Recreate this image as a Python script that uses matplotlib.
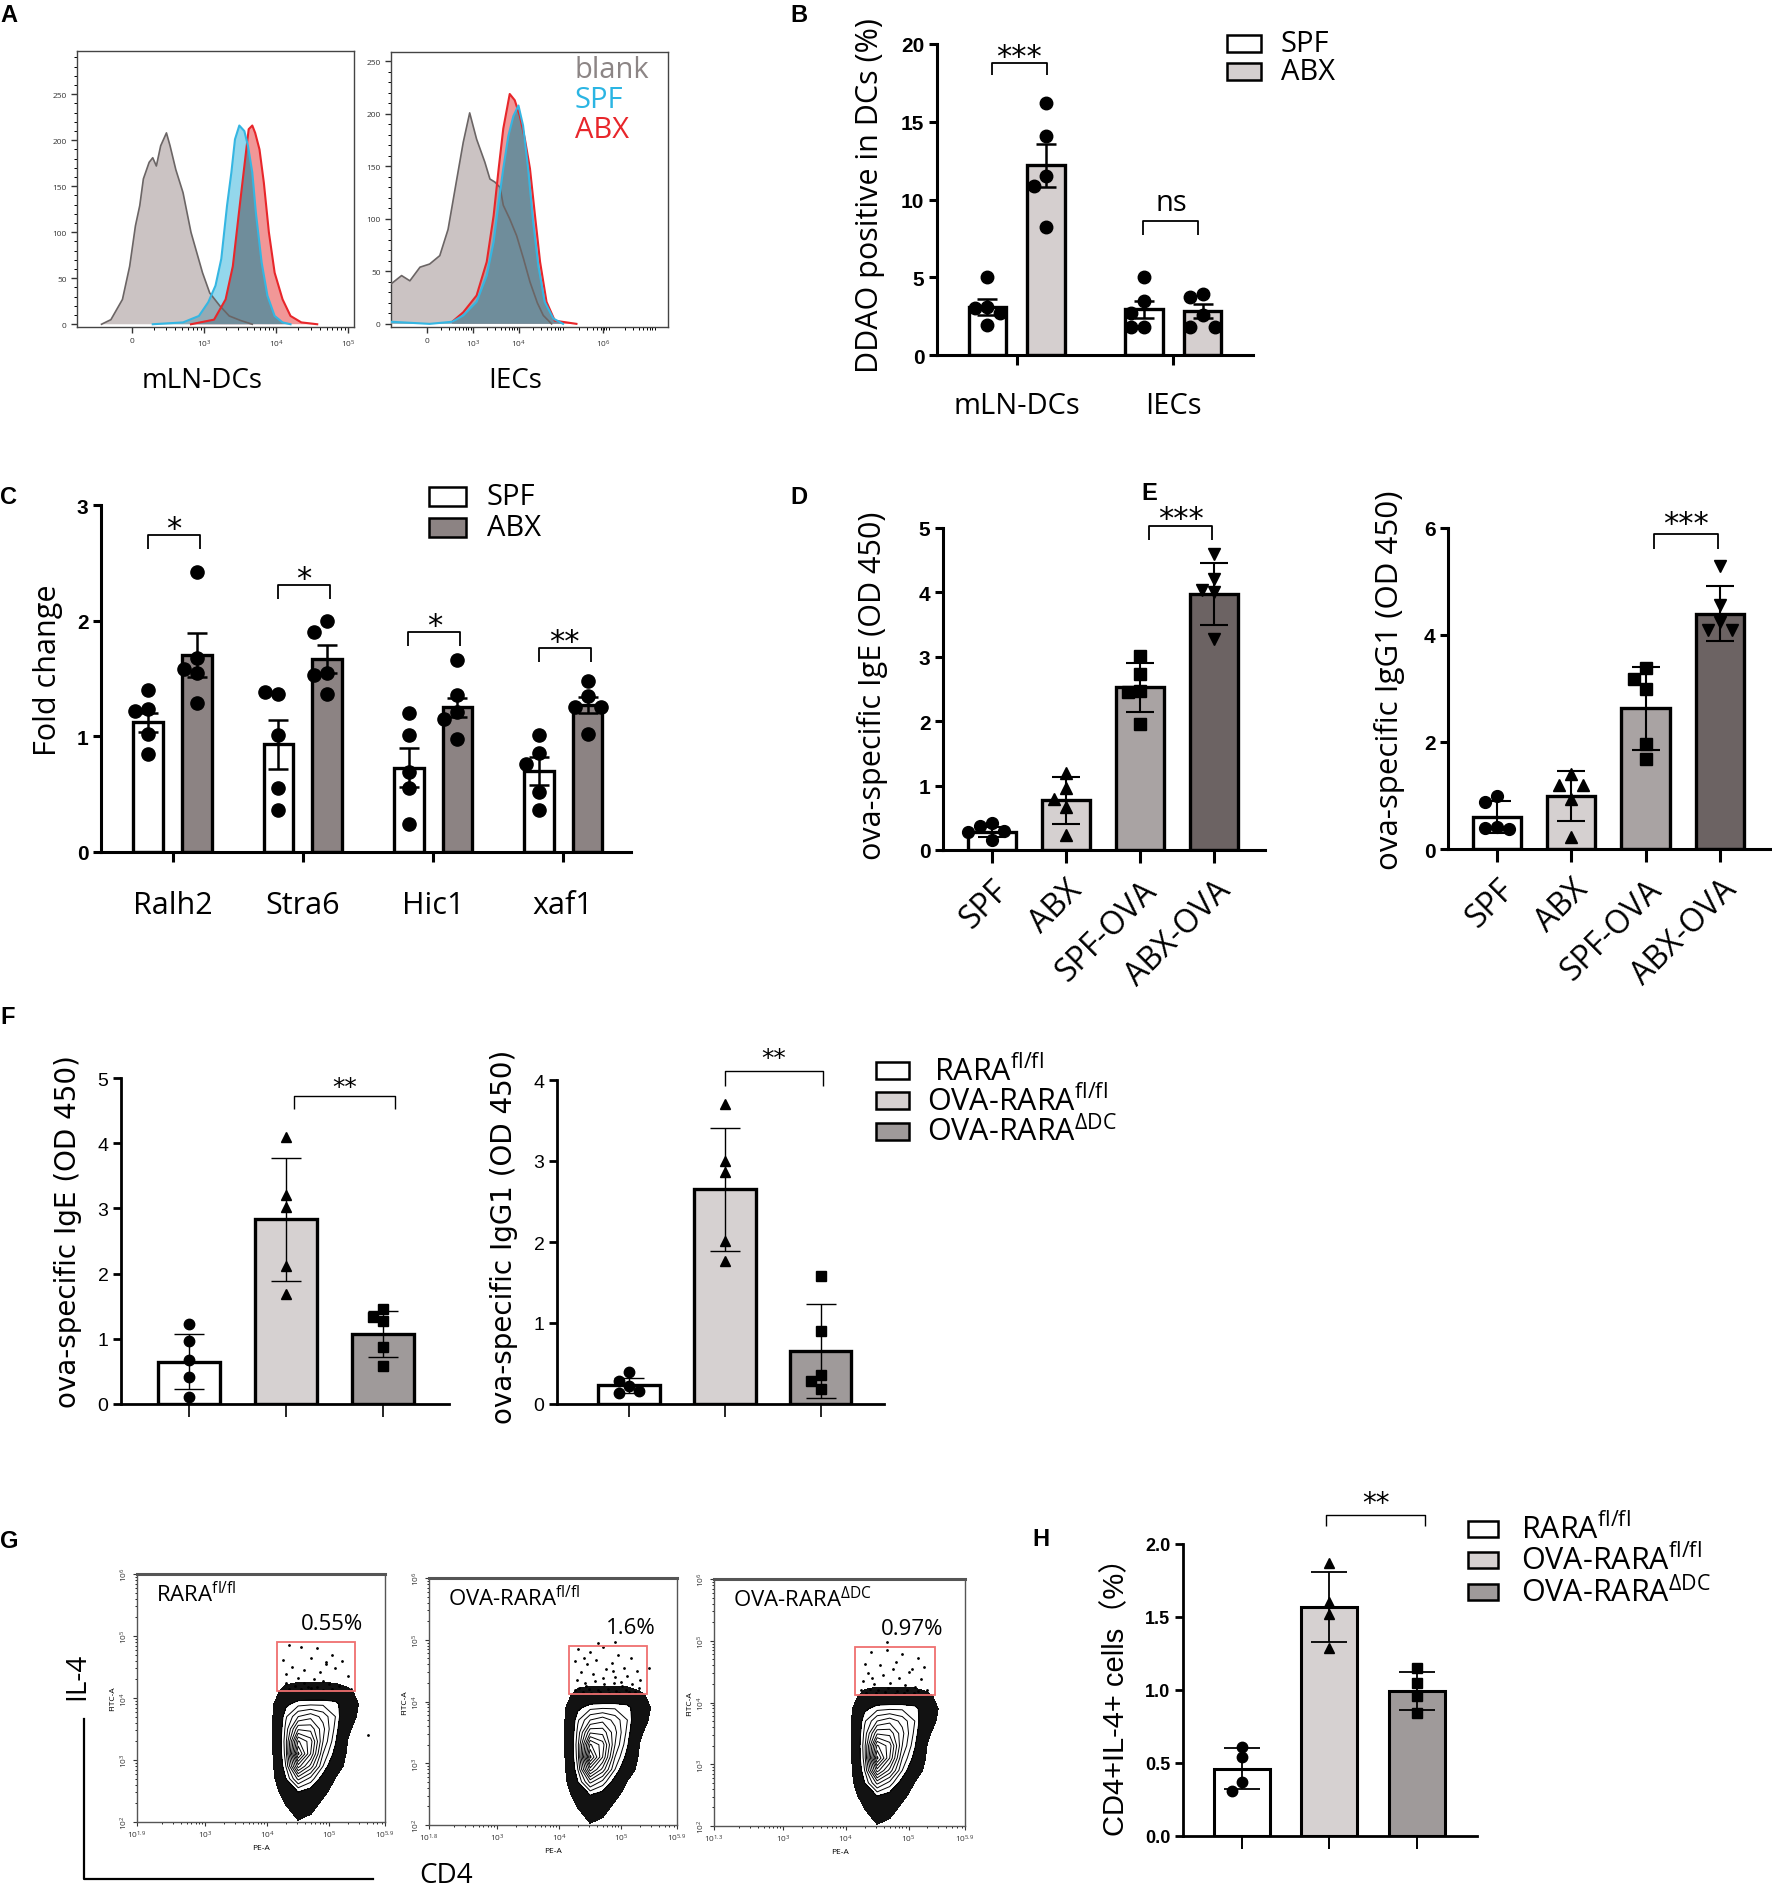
import numpy as np
import matplotlib
matplotlib.use("Agg")
import matplotlib.pyplot as plt
from matplotlib.patches import Polygon, Rectangle
from matplotlib import font_manager

# ------------------------------------------------------------------ data
# A: flow histograms, x in display decades (0 -> "0", 1 -> 10^3, 2 -> 10^4 ...)
A_DC_BLANK_U = [-0.42, -0.29, -0.13, -0.03, 0.05, 0.11, 0.16, 0.24, 0.29, 0.34, 0.40, 0.48,
                0.53, 0.61, 0.71, 0.82, 0.90, 0.98, 1.08, 1.22, 1.35, 1.51, 1.67]
A_DC_BLANK_N = [0, 5, 27, 63, 107, 129, 158, 176, 181, 172, 194, 208,
                194, 168, 143, 100, 78, 56, 34, 20, 9, 4, 0]
A_DC_SPF_U = [0.29, 0.71, 0.93, 1.06, 1.16, 1.24, 1.32, 1.38, 1.43, 1.49, 1.56, 1.61,
              1.67, 1.72, 1.80, 1.88, 1.98, 2.09, 2.20]
A_DC_SPF_N = [0, 2, 9, 24, 42, 71, 129, 165, 201, 216, 210, 194, 165, 121, 67, 31, 9, 2, 0]
A_DC_ABX_U = [0.82, 1.14, 1.30, 1.40, 1.48, 1.56, 1.62, 1.67, 1.71, 1.77, 1.83, 1.90,
              1.98, 2.09, 2.20, 2.35, 2.57]
A_DC_ABX_N = [0, 5, 27, 63, 118, 172, 212, 216, 208, 190, 154, 100, 56, 27, 9, 2, 0]

A_IEC_BLANK_U = [-0.78, -0.55, -0.37, -0.15, 0.06, 0.28, 0.46, 0.65, 0.79, 0.93, 1.08, 1.26,
                 1.37, 1.48, 1.59, 1.66, 1.80, 1.95, 2.10, 2.24, 2.40, 2.53, 2.71]
A_IEC_BLANK_N = [38, 46, 41, 54, 57, 65, 90, 138, 173, 201, 176, 154,
                 138, 135, 130, 113, 100, 84, 62, 40, 20, 8, 0]
A_IEC_SPF_U = [-0.78, 0.06, 0.55, 0.79, 1.08, 1.30, 1.45, 1.56, 1.66, 1.77, 1.88, 1.99,
               2.09, 2.20, 2.31, 2.42, 2.56, 2.75, 2.96]
A_IEC_SPF_N = [2, 0, 2, 8, 21, 46, 78, 116, 148, 179, 198, 208, 189, 148, 97, 56, 21, 5, 0]
A_IEC_ABX_U = [0.55, 0.79, 1.08, 1.30, 1.45, 1.56, 1.66, 1.80, 1.91, 2.02, 2.13, 2.24,
               2.35, 2.46, 2.60, 2.78, 3.25]
A_IEC_ABX_N = [2, 11, 27, 59, 103, 148, 186, 219, 213, 198, 176, 148, 103, 59, 21, 3, 0]
A_LEGEND = ['blank', 'SPF', 'ABX']

# B: DDAO positive in DCs (%), mean +/- SEM
B_GROUPS = ['mLN-DCs', 'IECs']
B_SPF_MEAN = [3.1, 2.95]
B_SPF_SEM = [0.5, 0.55]
B_ABX_MEAN = [12.2, 2.8]
B_ABX_SEM = [1.4, 0.45]
B_SPF_PTS = [[5.0, 3.1, 3.0, 2.7, 1.9], [5.0, 3.5, 2.7, 1.8, 1.8]]
B_ABX_PTS = [[16.2, 14.1, 11.5, 10.9, 8.2], [3.9, 3.7, 2.6, 1.8, 1.8]]

# C: fold change, mean +/- SEM
C_GENES = ['Ralh2', 'Stra6', 'Hic1', 'xaf1']
C_SPF_MEAN = [1.12, 0.93, 0.73, 0.70]
C_SPF_SEM = [0.08, 0.21, 0.17, 0.12]
C_ABX_MEAN = [1.70, 1.67, 1.25, 1.27]
C_ABX_SEM = [0.19, 0.12, 0.08, 0.07]
C_SPF_PTS = [[1.40, 1.24, 1.22, 1.02, 0.85], [1.37, 1.38, 1.01, 0.55, 0.36],
             [1.20, 1.01, 0.69, 0.55, 0.24], [1.01, 0.86, 0.76, 0.52, 0.36]]
C_ABX_PTS = [[2.42, 1.68, 1.58, 1.55, 1.29], [2.00, 1.90, 1.55, 1.53, 1.37],
             [1.66, 1.36, 1.21, 1.15, 0.98], [1.48, 1.35, 1.25, 1.25, 1.02]]
C_STARS = ['*', '*', '*', '**']
C_BRACKET_Y = [2.74, 2.31, 1.90, 1.76]

# D / E: ova-specific IgE / IgG1, mean +/- SD
DE_GROUPS = ['SPF', 'ABX', 'SPF-OVA', 'ABX-OVA']
D_MEAN = [0.28, 0.77, 2.53, 3.98]
D_SD = [0.08, 0.37, 0.38, 0.48]
D_PTS = [[0.42, 0.38, 0.30, 0.28, 0.15], [1.20, 0.97, 0.79, 0.66, 0.23],
         [3.02, 2.73, 2.47, 2.45, 1.96], [4.60, 4.21, 4.03, 4.00, 3.28]]
E_MEAN = [0.60, 0.99, 2.63, 4.40]
E_SD = [0.30, 0.47, 0.78, 0.52]
E_PTS = [[1.00, 0.87, 0.41, 0.39, 0.37], [1.40, 1.20, 1.19, 0.94, 0.22],
         [3.38, 3.18, 2.99, 1.97, 1.68], [5.29, 4.57, 4.24, 4.09, 4.09]]

# F: RARA knockout, mean +/- SD
F_GROUPS = ['RARA$^{fl/fl}$', 'OVA-RARA$^{fl/fl}$', 'OVA-RARA$^{ΔDC}$']
F1_MEAN = [0.65, 2.83, 1.07]
F1_SD = [0.42, 0.94, 0.35]
F1_PTS = [[1.23, 0.96, 0.67, 0.41, 0.10], [4.09, 3.20, 3.02, 2.12, 1.69],
          [1.46, 1.33, 1.28, 0.87, 0.59]]
F2_MEAN = [0.23, 2.65, 0.65]
F2_SD = [0.09, 0.76, 0.58]
F2_PTS = [[0.40, 0.28, 0.22, 0.16, 0.14], [3.70, 3.00, 2.86, 2.01, 1.77],
          [1.58, 0.90, 0.36, 0.29, 0.18]]

# G: IL-4 vs CD4 flow plots (log10 units); density
G_GRID_X = [3.9, 4.1, 4.3, 4.5, 4.7, 4.9, 5.1, 5.3, 5.5, 5.7]
G_GRID_Y = [4.5, 4.3, 4.1, 3.9, 3.7, 3.5, 3.3, 3.1, 2.9, 2.7, 2.5, 2.3, 2.1, 1.9]
G_DENSITY = [
    [0, 0, 0, 0, 0, 0, 0, 0, 0, 0],
    [0, 0.3, 0.8, 1.0, 1.0, 1.0, 0.9, 0.6, 0.2, 0],
    [0, 0.8, 1.8, 2.0, 2.0, 2.0, 2.0, 1.6, 0.8, 0],
    [0, 1.2, 2.8, 3.4, 3.5, 3.5, 3.3, 2.2, 1.1, 0],
    [0, 1.3, 3.5, 4.8, 5.2, 4.6, 3.6, 1.8, 1.0, 0.2],
    [0, 1.3, 3.8, 6.5, 6.4, 5.0, 3.4, 1.5, 0.6, 0],
    [0, 1.3, 4.0, 8.5, 7.5, 4.8, 3.1, 1.2, 0.4, 0],
    [0, 1.3, 3.9, 9.8, 7.2, 4.2, 2.7, 1.0, 0.2, 0],
    [0, 1.2, 3.6, 7.5, 5.8, 3.6, 2.0, 0.8, 0, 0],
    [0, 1.0, 3.0, 5.0, 4.0, 2.6, 1.2, 0.4, 0, 0],
    [0, 0.7, 2.0, 3.1, 2.7, 1.6, 0.8, 0.2, 0, 0],
    [0, 0.4, 1.3, 2.0, 1.8, 1.0, 0.4, 0, 0, 0],
    [0, 0.1, 0.9, 1.4, 1.2, 0.6, 0, 0, 0, 0],
    [0, 0, 0.5, 1.0, 0.8, 0.2, 0, 0, 0, 0],
]
G_SAMPLES = ['RARA$^{fl/fl}$', 'OVA-RARA$^{fl/fl}$', 'OVA-RARA$^{ΔDC}$']
G_PCT = ['0.55%', '1.6%', '0.97%']
G_XMIN = ['1.9', '1.8', '1.3']
G1_DOTS_X = [4.35, 4.55, 4.80, 5.05, 4.25, 4.70, 4.95, 5.20, 4.40, 4.60, 4.85, 5.10, 5.30, 4.30,
             4.50, 4.75, 4.90, 5.00, 4.45, 4.65, 4.80, 5.15, 4.35, 4.55, 4.70, 4.90, 5.05, 4.60,
             4.30, 5.35, 5.62, 4.95]
G1_DOTS_Y = [4.85, 4.82, 4.80, 4.70, 4.62, 4.65, 4.55, 4.60, 4.50, 4.45, 4.42, 4.48, 4.35, 4.38,
             4.32, 4.30, 4.28, 4.22, 4.20, 4.18, 4.17, 4.20, 4.15, 4.14, 4.16, 4.13, 4.15, 4.25,
             4.25, 4.15, 3.40, 4.58]
G2_DOTS_X = [4.30, 4.50, 4.70, 4.95, 5.15, 4.25, 4.45, 4.60, 4.85, 5.05, 5.25, 4.35, 4.55, 4.75,
             4.90, 5.10, 5.30, 4.28, 4.42, 4.58, 4.72, 4.88, 5.02, 5.18, 4.32, 4.48, 4.62, 4.78,
             4.92, 5.08, 5.22, 4.38, 4.52, 4.66, 4.80, 4.96, 5.12, 4.26, 4.44, 4.70, 4.86, 5.00,
             5.28, 4.62, 4.90, 5.45, 4.40]
G2_DOTS_Y = [4.85, 4.80, 4.88, 4.75, 4.70, 4.65, 4.60, 4.68, 4.62, 4.55, 4.50, 4.48, 4.45, 4.52,
             4.40, 4.42, 4.35, 4.35, 4.30, 4.33, 4.28, 4.30, 4.25, 4.28, 4.22, 4.20, 4.18, 4.21,
             4.17, 4.19, 4.16, 4.15, 4.14, 4.15, 4.13, 4.14, 4.15, 4.18, 4.25, 4.38, 4.50, 4.32,
             4.22, 4.95, 4.97, 4.55, 4.70]
G3_DOTS_X = [4.40, 4.65, 4.90, 5.15, 4.30, 4.55, 4.80, 5.05, 5.25, 4.35, 4.60, 4.85, 5.00, 5.20,
             4.28, 4.45, 4.70, 4.95, 5.10, 4.38, 4.52, 4.68, 4.82, 4.98, 5.15, 4.32, 4.48, 4.62,
             4.78, 4.92, 5.08, 4.42, 4.75, 5.30, 4.65, 4.25]
G3_DOTS_Y = [4.82, 4.85, 4.78, 4.72, 4.62, 4.60, 4.65, 4.55, 4.58, 4.48, 4.45, 4.40, 4.50, 4.38,
             4.35, 4.30, 4.32, 4.28, 4.25, 4.22, 4.20, 4.24, 4.18, 4.21, 4.19, 4.16, 4.15, 4.17,
             4.14, 4.15, 4.16, 4.40, 4.55, 4.20, 4.98, 4.20]

# H: CD4+IL-4+ cells (%), mean +/- SD
H_MEAN = [0.46, 1.57, 0.99]
H_SD = [0.14, 0.24, 0.13]
H_PTS = [[0.61, 0.54, 0.37, 0.31], [1.87, 1.60, 1.52, 1.29], [1.15, 1.05, 0.96, 0.84]]

# ------------------------------------------------------------------ setup
W, H = 1772, 1890
DPI = 100
plt.rcParams['font.family'] = ['Open Sans', 'DejaVu Sans']
plt.rcParams['mathtext.default'] = 'regular'

installed = {f.name for f in font_manager.fontManager.ttflist}
NARROW = 'Liberation Sans Narrow' if 'Liberation Sans Narrow' in installed else 'Liberation Sans'
BOLDNUM = 'Liberation Sans'
STAR = 'DejaVu Sans'

fig = plt.figure(figsize=(W / DPI, H / DPI), dpi=DPI)
fig.patch.set_facecolor('white')


def px_axes(box):
    l, t, r, b = box
    ax = fig.add_axes([l / W, 1 - b / H, (r - l) / W, (b - t) / H])
    ax.patch.set_alpha(0)
    return ax


def swarm_offsets(vals, dx, dy):
    placed, out = [], []
    for v in vals:
        for k in (0, -1, 1, -2, 2, -3, 3):
            o = k * dx
            if all(abs(v - pv) >= dy or abs(o - po) >= dx * 0.99 for po, pv in placed):
                break
        placed.append((o, v))
        out.append(o)
    return out


def bar_axes(box, xlim, ylim, yticks, ylabels, fs, font, weight, lw, ylen, xlen):
    ax = px_axes(box)
    ax.set_xlim(*xlim)
    ax.set_ylim(*ylim)
    for s in ('top', 'right'):
        ax.spines[s].set_visible(False)
    for s in ('left', 'bottom'):
        ax.spines[s].set_linewidth(lw)
        ax.spines[s].set_capstyle('projecting')
    ax.set_yticks(yticks)
    ax.set_yticklabels(ylabels, fontsize=fs, family=font, fontweight=weight)
    ax.tick_params(axis='y', length=ylen, width=lw, pad=3)
    ax.tick_params(axis='x', length=xlen, width=lw)
    # marker footprint in data units for point spreading
    l, t, r, b = box
    ax._ux = (xlim[1] - xlim[0]) / (r - l)
    ax._uy = (ylim[1] - ylim[0]) / (b - t)
    return ax


def draw_group(ax, x, mean, err, pts, face, marker, width, ms, cap, elw, blw, diam):
    ax.bar(x, mean, width=width, color=face, edgecolor='black', linewidth=blw, zorder=2)
    ax.errorbar(x, mean, yerr=err, fmt='none', ecolor='black', elinewidth=elw,
                capsize=cap, capthick=elw, zorder=3)
    offs = swarm_offsets(pts, diam * ax._ux, diam * ax._uy)
    ax.plot(np.array(offs) + x, pts, linestyle='none', marker=marker, ms=ms,
            color='black', zorder=4, clip_on=False)


def bracket(ax, x1, x2, y, tip, label, fs, ly, lw=1.3, family=STAR, rise=0.55):
    ax.plot([x1, x1, x2, x2], [y - tip, y, y, y - tip], color='black', lw=lw,
            clip_on=False, zorder=5, solid_capstyle='butt')
    ax.annotate(label, (0.5 * (x1 + x2), ly), xytext=(0, -rise * fs),
                textcoords='offset points', ha='center', va='baseline',
                fontsize=fs, family=family, annotation_clip=False)


# ------------------------------------------------------------------ A
def hist_poly(ax, u, n, face, alpha, z):
    verts = np.column_stack([[u[0]] + list(u) + [u[-1]], [0] + list(n) + [0]])
    ax.add_patch(Polygon(verts, closed=True, facecolor=face, edgecolor='none',
                         alpha=alpha, zorder=z))
    return verts


def hist_overlap(ax, va, vb, color, z):
    p = Polygon(va, closed=True, facecolor=color, edgecolor='none', zorder=z)
    ax.add_patch(p)
    p.set_clip_path(Polygon(vb, closed=True, transform=ax.transData))


def histo(box, blank, spf, abx, xlim, ylim, xticks, xlabels):
    ax = px_axes(box)
    vb = hist_poly(ax, *blank, '#cbc3c3', 1.0, 1)
    vs = hist_poly(ax, *spf, '#88d3ea', 0.9, 2)
    va = hist_poly(ax, *abx, '#f08c8c', 0.9, 3)
    hist_overlap(ax, vb, vs, '#93aab4', 4)
    hist_overlap(ax, vb, va, '#a99ea2', 4)
    hist_overlap(ax, vs, va, '#6f8d9b', 5)
    ax.plot(*blank, color='#6b6565', lw=1.2, zorder=6)
    ax.plot(*abx, color='#e8262a', lw=1.5, zorder=7)
    ax.plot(*spf, color='#35b6e2', lw=1.5, zorder=8)
    ax.set_xlim(*xlim)
    ax.set_ylim(*ylim)
    for s in ax.spines.values():
        s.set_linewidth(1.0)
        s.set_color('#444444')
    ax.set_yticks([0, 50, 100, 150, 200, 250])
    ax.set_yticks(np.arange(0, ylim[1], 10), minor=True)
    ax.set_xticks(xticks)
    ax.set_xticklabels(xlabels)
    minor = [d + np.log10(k) for d in range(0, 5) for k in range(2, 10)
             if xlim[0] < d + np.log10(k) < xlim[1]]
    ax.set_xticks(minor, minor=True)
    ax.tick_params(labelsize=6, colors='#333333', length=4, width=1.0)
    ax.tick_params(which='minor', length=2, width=0.7)
    return ax


histo((77, 52, 354, 328),
      (A_DC_BLANK_U, A_DC_BLANK_N), (A_DC_SPF_U, A_DC_SPF_N), (A_DC_ABX_U, A_DC_ABX_N),
      (-0.76, 3.08), (-3, 297), [0, 1, 2, 3],
      ['0', '10$^3$', '10$^4$', '10$^5$'])
histo((391, 53, 668, 328),
      (A_IEC_BLANK_U, A_IEC_BLANK_N), (A_IEC_SPF_U, A_IEC_SPF_N), (A_IEC_ABX_U, A_IEC_ABX_N),
      (-0.78, 5.24), (-3, 259), [0, 1, 2, 3.83],
      ['0', '10$^3$', '10$^4$', '10$^6$'])

# ------------------------------------------------------------------ B
axB = bar_axes((937, 45, 1253, 356), (-0.51, 1.51), (0, 20), [0, 5, 10, 15, 20],
               ['0', '5', '10', '15', '20'], 15, BOLDNUM, 'bold', 2.2, 6, 7)
for i in range(len(B_GROUPS)):
    draw_group(axB, i - 0.188, B_SPF_MEAN[i], B_SPF_SEM[i], B_SPF_PTS[i], 'white', 'o',
               0.24, 9, 7, 1.8, 2.4, 12.5)
    draw_group(axB, i + 0.188, B_ABX_MEAN[i], B_ABX_SEM[i], B_ABX_PTS[i], '#d5cfcf', 'o',
               0.24, 9, 7, 1.8, 2.4, 12.5)
axB.set_xticks(range(len(B_GROUPS)))
axB.set_xticklabels(B_GROUPS, fontsize=21)
axB.tick_params(axis='x', pad=19)
bracket(axB, -0.16, 0.19, 18.8, 0.8, '***', 22, 19.7)
bracket(axB, 0.81, 1.16, 8.6, 0.9, 'ns', 21, 9.8, family='Open Sans', rise=0.27)

# ------------------------------------------------------------------ C
axC = bar_axes((101, 506, 631, 853), (-0.55, 3.52), (0, 3), [0, 1, 2, 3],
               ['0', '1', '2', '3'], 15, BOLDNUM, 'bold', 2.2, 6, 7)
for i in range(len(C_GENES)):
    draw_group(axC, i - 0.187, C_SPF_MEAN[i], C_SPF_SEM[i], C_SPF_PTS[i], 'white', 'o',
               0.228, 9.5, 7, 1.8, 2.4, 13)
    draw_group(axC, i + 0.187, C_ABX_MEAN[i], C_ABX_SEM[i], C_ABX_PTS[i], '#8c8383', 'o',
               0.228, 9.5, 7, 1.8, 2.4, 13)
    bracket(axC, i - 0.19, i + 0.21, C_BRACKET_Y[i], 0.12, C_STARS[i], 22,
            C_BRACKET_Y[i] + 0.13)
axC.set_xticks(range(len(C_GENES)))
axC.set_xticklabels(C_GENES, fontsize=22)
axC.tick_params(axis='x', pad=20)

# ------------------------------------------------------------------ D / E
DE_FACES = ['white', '#d5d0d0', '#a9a3a3', '#6c6363']
DE_MARKERS = ['o', '^', 's', 'v']


def de_panel(box, ylim, yticks, means, sds, pts, br_y, br_tip, star_y):
    ax = bar_axes(box, (-0.66, 3.69), ylim, yticks, [str(t) for t in yticks],
                  15, BOLDNUM, 'bold', 2.2, 6, 9)
    for i in range(len(DE_GROUPS)):
        draw_group(ax, i, means[i], sds[i], pts[i], DE_FACES[i], DE_MARKERS[i],
                   0.65, 8.5, 10, 1.5, 2.4, 12)
    ax.set_xticks(range(len(DE_GROUPS)))
    ax.set_xticklabels(DE_GROUPS, fontsize=23, rotation=45, ha='right',
                       rotation_mode='anchor')
    ax.tick_params(axis='x', pad=8)
    bracket(ax, 2.12, 2.98, br_y, br_tip, '***', 22, star_y)
    return ax


de_panel((943, 529, 1265, 851), (0, 5), [0, 1, 2, 3, 4, 5], D_MEAN, D_SD, D_PTS,
         5.03, 0.22, 5.27)
de_panel((1448, 529, 1771, 850), (0, 6), [0, 2, 4, 6], E_MEAN, E_SD, E_PTS,
         5.88, 0.27, 6.24)

# ------------------------------------------------------------------ F
F_FACES = ['white', '#d6d1d1', '#9f9a9a']
F_MARKERS = ['o', '^', 's']


def f_panel(box, xlim, ylim, yticks, means, sds, pts, x1, x2, br_y, br_tip, star_y):
    ax = bar_axes(box, xlim, ylim, yticks, [str(t) for t in yticks],
                  14, NARROW, 'normal', 2.0, 6, 9)
    for i in range(len(F_GROUPS)):
        draw_group(ax, i, means[i], sds[i], pts[i], F_FACES[i], F_MARKERS[i],
                   0.64, 7.5, 11, 1.0, 2.4, 10)
    ax.set_xticks(range(len(F_GROUPS)))
    ax.set_xticklabels([])
    ax.tick_params(axis='x', width=1.2)
    bracket(ax, x1, x2, br_y, br_tip, '**', 18, star_y, lw=1.0)
    return ax


f_panel((121, 1079, 449, 1405), (-0.70, 2.68), (0, 5), [0, 1, 2, 3, 4, 5],
        F1_MEAN, F1_SD, F1_PTS, 1.08, 2.12, 4.73, 0.2, 4.96)
f_panel((557, 1081, 884, 1405), (-0.75, 2.66), (0, 4), [0, 1, 2, 3, 4],
        F2_MEAN, F2_SD, F2_PTS, 1.0, 2.02, 4.11, 0.18, 4.36)

# ------------------------------------------------------------------ G
GX = np.array(G_GRID_X)
GY = np.array(G_GRID_Y)[::-1]
GZ = np.array(G_DENSITY)[::-1]


def flow_panel(box, xmin, sample, pct, dots_x, dots_y):
    ax = px_axes(box)
    ax.set_xlim(1.9, 5.9)
    ax.set_ylim(2, 6)
    ax.contourf(GX, GY, GZ, levels=[1.25, 3.0], colors=['#121212'], zorder=1)
    ax.contour(GX, GY, GZ, levels=np.arange(3.0, 10.0, 0.6), colors='black',
               linewidths=0.7, zorder=2)
    ax.plot(dots_x, dots_y, linestyle='none', marker='o', ms=1.0, color='black', zorder=3)
    ax.add_patch(Rectangle((4.15, 4.12), 1.27, 0.78, fill=False, edgecolor='#ef7070',
                           lw=1.3, zorder=4))
    for s in ax.spines.values():
        s.set_linewidth(1.0)
        s.set_color('#555555')
    ax.spines['top'].set_linewidth(2.2)
    ax.set_xticks([1.9, 3, 4, 5, 5.9])
    ax.set_xticklabels(['10$^{%s}$' % xmin, '10$^3$', '10$^4$', '10$^5$', '10$^{5.9}$'])
    ax.set_yticks([2, 3, 4, 5, 6])
    ax.set_yticklabels(['10$^2$', '10$^3$', '10$^4$', '10$^5$', '10$^6$'], rotation=90,
                       va='center')
    xminor = [d + np.log10(k) for d in range(2, 6) for k in range(2, 10)
              if 1.9 < d + np.log10(k) < 5.9]
    yminor = [d + np.log10(k) for d in range(2, 6) for k in range(2, 10)]
    ax.set_xticks(xminor, minor=True)
    ax.set_yticks(yminor, minor=True)
    ax.tick_params(labelsize=6, length=3, width=0.8, colors='#333333', pad=2)
    ax.tick_params(which='minor', length=1.5, width=0.6)
    ax.set_xlabel('PE-A', fontsize=6, labelpad=3)
    ax.set_ylabel('FITC-A', fontsize=6, labelpad=2)
    ax.text(2.2, 5.68, sample, fontsize=16, ha='left', va='center')
    ax.text(5.55, 5.2, pct, fontsize=16, ha='right', va='center')
    return ax


flow_panel((137, 1575, 385, 1823), G_XMIN[0], G_SAMPLES[0], G_PCT[0], G1_DOTS_X, G1_DOTS_Y)
flow_panel((429, 1579, 677, 1826), G_XMIN[1], G_SAMPLES[1], G_PCT[1], G2_DOTS_X, G2_DOTS_Y)
flow_panel((714, 1580, 965, 1827), G_XMIN[2], G_SAMPLES[2], G_PCT[2], G3_DOTS_X, G3_DOTS_Y)

# ------------------------------------------------------------------ H
axH = bar_axes((1183, 1545, 1477, 1837), (-0.67, 2.69), (0, 2), [0, 0.5, 1.0, 1.5, 2.0],
               ['0.0', '0.5', '1.0', '1.5', '2.0'], 13, BOLDNUM, 'bold', 2.0, 6, 9)
for i in range(len(H_MEAN)):
    draw_group(axH, i, H_MEAN[i], H_SD[i], H_PTS[i], F_FACES[i], F_MARKERS[i],
               0.64, 7.5, 13, 1.3, 2.2, 10)
axH.set_xticks(range(len(H_MEAN)))
axH.set_xticklabels([])
axH.tick_params(axis='x', width=1.4)
bracket(axH, 0.96, 2.10, 2.20, 0.08, '**', 20, 2.33, lw=1.0)

# ------------------------------------------------------------------ overlay: labels, legends
ov = fig.add_axes([0, 0, 1, 1])
ov.set_xlim(0, W)
ov.set_ylim(H, 0)
ov.axis('off')
ov.patch.set_alpha(0)

for letter, x, y in [('A', 0, 15), ('B', 790, 15), ('C', 0, 497), ('D', 790, 497),
                     ('E', 1141, 494), ('F', 0, 1018), ('G', 0, 1542), ('H', 1032, 1540)]:
    ov.text(x, y, letter, fontsize=17, fontweight='bold', family=BOLDNUM,
            ha='left', va='center')

# A texts
for name, color, y in zip(A_LEGEND, ['#8c8585', '#2bb5e3', '#e8262b'], [71, 101, 130]):
    ov.text(575, y, name, color=color, fontsize=21, ha='left', va='center')
ov.text(202, 381, 'mLN-DCs', fontsize=20, ha='center', va='center')
ov.text(515, 381, 'IECs', fontsize=20, ha='center', va='center')


def legend_box(x, y, w, h, face, label, tx, fs=21):
    ov.add_patch(Rectangle((x, y), w, h, facecolor=face, edgecolor='black', lw=1.8))
    ov.text(tx, y + h / 2, label, fontsize=fs, ha='left', va='center')


legend_box(1227, 36, 34, 17, 'white', 'SPF', 1281)
legend_box(1227, 64, 34, 17, '#d5cfcf', 'ABX', 1281)
legend_box(429, 488, 37, 19, 'white', 'SPF', 487)
legend_box(429, 519, 37, 19, '#8c8383', 'ABX', 487)
for label, face, y, tx in zip(F_GROUPS, F_FACES, [1063, 1093, 1124], [934, 927, 927]):
    legend_box(876, y, 33, 17, face, label, tx, fs=22)
for label, face, y in zip(F_GROUPS, F_FACES, [1522, 1553, 1585]):
    legend_box(1468, y, 30, 16, face, label, 1521, fs=22)

# y-axis titles
for x, y, s, fam, fs in [(870, 196, 'DDAO positive in DCs (%)', None, 22),
                         (48, 670, 'Fold change', None, 22),
                         (873, 686, 'ova-specific IgE (OD 450)', None, 22),
                         (1390, 680, 'ova-specific IgG1 (OD 450)', None, 22.5),
                         (68, 1232, 'ova-specific IgE (OD 450)', 'DejaVu Sans', 20),
                         (504, 1237, 'ova-specific IgG1 (OD 450)', 'DejaVu Sans', 20)]:
    kw = {'family': fam} if fam else {}
    ov.text(x, y, s, rotation=90, fontsize=fs, ha='center', va='center', **kw)
ov.text(1116, 1690, 'CD4+IL-4+ cells（%）', rotation=90, fontsize=21, ha='center',
        va='center', family=['Liberation Sans', 'Noto Sans CJK SC'])

# G axis cartoon
ov.plot([84, 84, 373], [1720, 1880, 1880], color='black', lw=1.6)
ov.text(77, 1676, 'IL-4', rotation=90, fontsize=20, ha='center', va='center')
ov.text(446, 1876, 'CD4', fontsize=20, ha='center', va='center')

fig.savefig('out.png', dpi=DPI)
